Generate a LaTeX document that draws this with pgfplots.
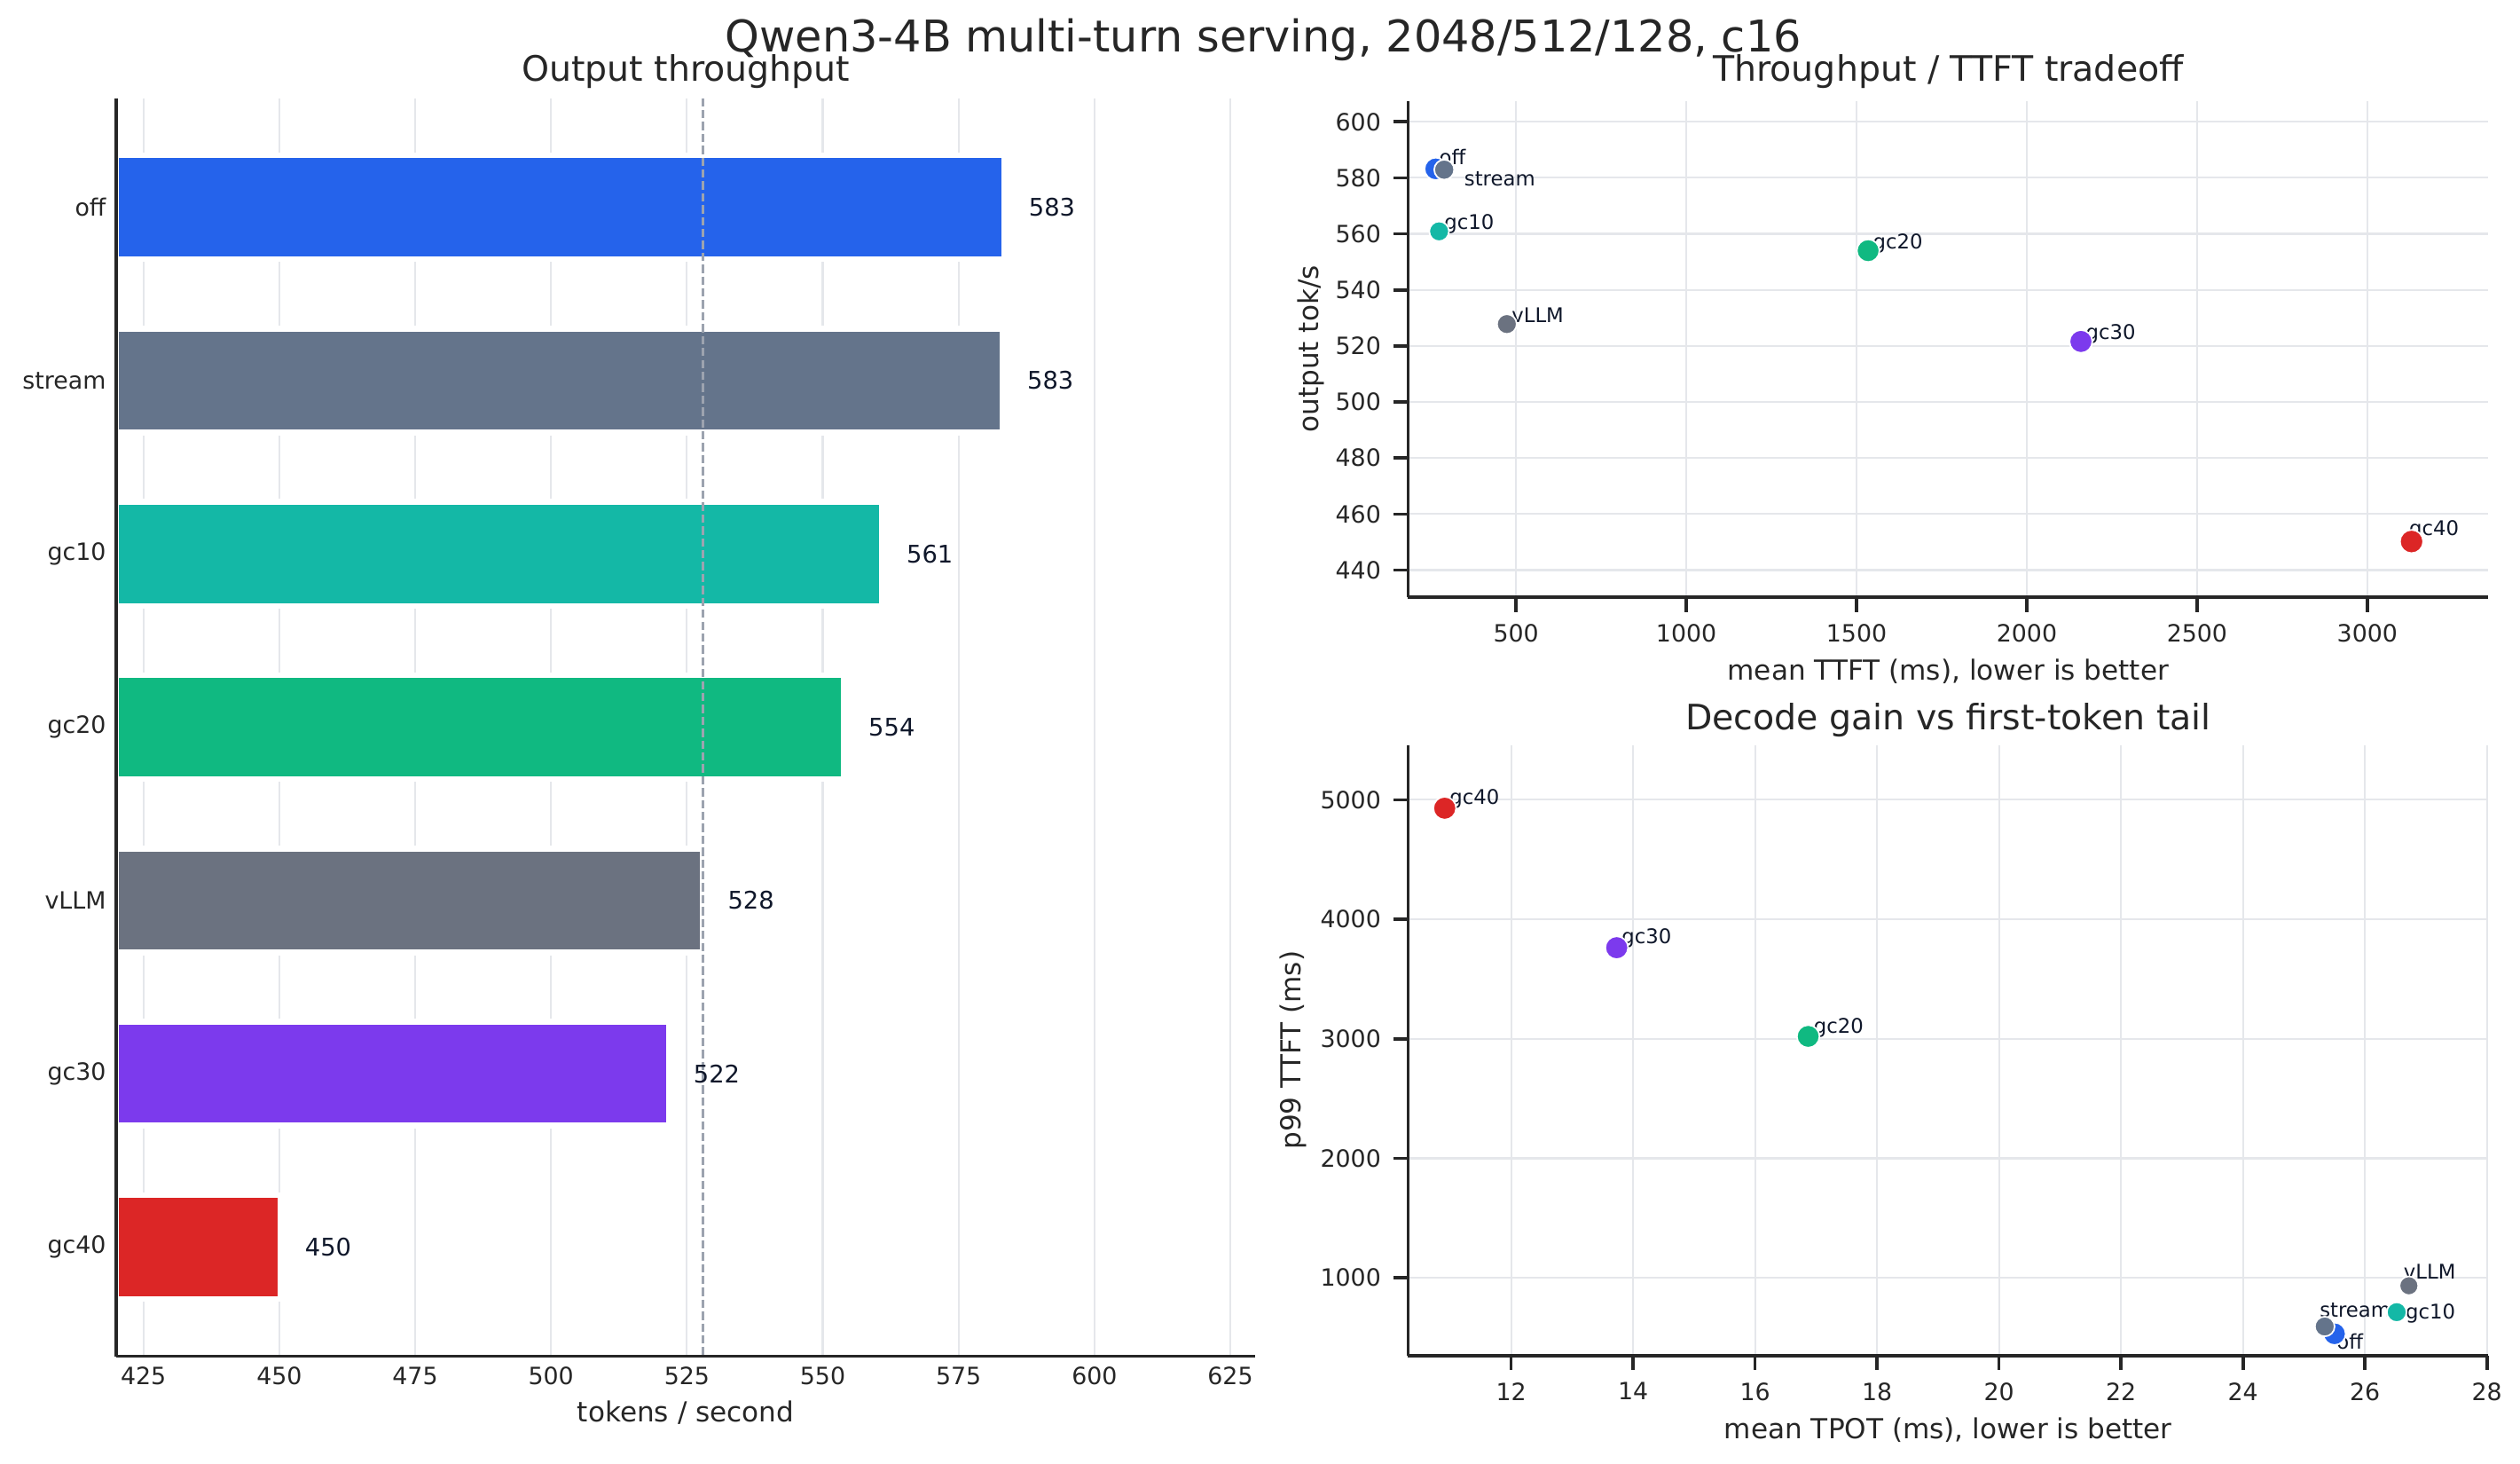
\documentclass[border=0pt]{standalone}
\usepackage{pgfplots}
\pgfplotsset{compat=1.18}
\usepackage{fontspec}
\setmainfont{DejaVu Sans}

\definecolor{cOff}{HTML}{2563EB}
\definecolor{cStream}{HTML}{64748B}
\definecolor{cGcTen}{HTML}{14B8A6}
\definecolor{cGcTwenty}{HTML}{10B981}
\definecolor{cVllm}{HTML}{6B7280}
\definecolor{cGcThirty}{HTML}{7C3AED}
\definecolor{cGcForty}{HTML}{DC2626}
\definecolor{cSpine}{HTML}{262626}
\definecolor{cGrid}{HTML}{E5E7EB}
\definecolor{cDash}{HTML}{9CA3AF}
\definecolor{cAnnot}{HTML}{0F172A}

\newcommand{\fsz}[1]{\fontsize{#1}{#1}\selectfont}

\tikzset{lbl/.style={anchor=base west, inner sep=0pt, font=\fsz{9}, text=cAnnot}}

\pgfplotsset{
  layers/barlayers/.define layer set={axis background,axis grid,main,axis ticks,axis lines,axis tick labels,axis descriptions,axis foreground}{/pgfplots/layers/standard},
  panel/.style={
    scale only axis,
    axis lines*=left,
    axis line style={cSpine, line width=1.5pt},
    tick style={cSpine, line width=1.4pt},
    tick align=outside,
    major tick length=6.6pt,
    ticklabel style={font=\fsz{10.6}, text=cSpine},
    /pgf/number format/assume math mode=true,
    /pgf/number format/1000 sep={},
    scaled ticks=false,
    grid=major,
    major grid style={cGrid, line width=0.85pt},
    every axis x label/.style={at={(axis description cs:0.5,0)}, anchor=base, font=\fsz{12.3}, text=cSpine},
    every axis y label/.style={rotate=90, anchor=center, font=\fsz{12.3}, text=cSpine},
  },
  barval/.style={nodes near coords, point meta=explicit symbolic,
    every node near coord/.style={anchor=west, inner sep=0pt, xshift=9.7pt, font=\fsz{10.8}, text=cAnnot}},
  dot/.style 2 args={only marks, mark=*, mark size=#2, mark options={fill=#1, draw=white, line width=0.7pt}},
}

\begin{document}
\begin{tikzpicture}
\path (0,0) rectangle (1123pt,652.2pt);

% left: output throughput bars
\begin{axis}[panel, at={(51.8pt,48pt)}, anchor=south west,
  width=507.6pt, height=560.5pt,
  set layers=barlayers,
  xbar, bar width=0.6, bar shift=0pt,
  xmin=420, xmax=629.6, ymin=-0.63, ymax=6.63, y dir=reverse,
  xtick={425,450,...,625}, ytick={0,...,6},
  yticklabels={off,stream,gc10,gc20,vLLM,gc30,gc40},
  major tick length=0pt,
  xmajorgrids=true, ymajorgrids=false,
  xticklabel style={anchor=north, inner sep=0pt, yshift=-4.7pt},
  yticklabel style={anchor=east, inner sep=0pt, xshift=-4.4pt},
  xlabel={tokens / second}, xlabel style={yshift=-29.1pt},
]
\addplot[barval, fill=cOff, draw=white, line width=2.6pt] coordinates {(583.4,0) [583]};
\addplot[barval, fill=cStream, draw=white, line width=2.6pt] coordinates {(583.1,1) [583]};
\addplot[barval, fill=cGcTen, draw=white, line width=2.6pt] coordinates {(560.9,2) [561]};
\addplot[barval, fill=cGcTwenty, draw=white, line width=2.6pt] coordinates {(553.9,3) [554]};
\addplot[barval, fill=cVllm, draw=white, line width=2.6pt] coordinates {(528.0,4) [528]};
\addplot[barval, fill=cGcThirty, draw=white, line width=2.6pt] coordinates {(521.7,5) [522]};
\addplot[barval, fill=cGcForty, draw=white, line width=2.6pt] coordinates {(450.2,6) [450]};
\addplot[sharp plot, no marks, cDash, line width=1pt, dash pattern=on 3.7pt off 1.6pt] coordinates {(528,-0.63) (528,6.63)};
\end{axis}

% top right: throughput vs mean TTFT
\begin{axis}[panel, at={(627.5pt,386.1pt)}, anchor=south west,
  width=481.3pt, height=221.2pt,
  xmin=183, xmax=3355, ymin=430.3, ymax=607.5,
  xtick={500,1000,...,3000}, ytick={440,460,...,600},
  xticklabel style={anchor=north, inner sep=0pt, yshift=-5.3pt},
  yticklabel style={anchor=east, inner sep=0pt, xshift=-5.3pt},
  xlabel={mean TTFT (ms), lower is better}, xlabel style={yshift=-36.9pt},
  ylabel={output tok/s}, ylabel style={at={(axis description cs:-0.0904,0.5)}},
  clip=false,
]
\addplot[dot={cOff}{5.0pt}] coordinates {(264,583.2)};
\addplot[dot={cStream}{4.45pt}] coordinates {(289,582.9)};
\addplot[dot={cGcTen}{4.4pt}] coordinates {(274,560.9)};
\addplot[dot={cGcTwenty}{5.05pt}] coordinates {(1534,554.0)};
\addplot[dot={cVllm}{4.4pt}] coordinates {(473,527.8)};
\addplot[dot={cGcThirty}{5.1pt}] coordinates {(2159,521.6)};
\addplot[dot={cGcForty}{5.2pt}] coordinates {(3130,450.2)};
\node[lbl, xshift=1.4pt, yshift=2pt] at (axis cs:264,583.2) {off};
\node[lbl, xshift=8.8pt, yshift=-7.1pt] at (axis cs:289,582.9) {stream};
\node[lbl, xshift=2.2pt, yshift=0.8pt] at (axis cs:274,560.9) {gc10};
\node[lbl, xshift=2pt, yshift=0.7pt] at (axis cs:1534,554.0) {gc20};
\node[lbl, xshift=2pt, yshift=0.8pt] at (axis cs:473,527.8) {vLLM};
\node[lbl, xshift=2pt, yshift=1pt] at (axis cs:2159,521.6) {gc30};
\node[lbl, xshift=-1.2pt, yshift=2.6pt] at (axis cs:3130,450.2) {gc40};
\end{axis}

% bottom right: p99 TTFT vs mean TPOT
\begin{axis}[panel, at={(627.5pt,48.3pt)}, anchor=south west,
  width=481.3pt, height=272pt,
  xmin=10.31, xmax=28.02, ymin=350, ymax=5458,
  xtick={12,14,...,28}, ytick={1000,2000,...,5000},
  xticklabel style={anchor=north, inner sep=0pt, yshift=-5.3pt},
  yticklabel style={anchor=east, inner sep=0pt, xshift=-5.3pt},
  xlabel={mean TPOT (ms), lower is better}, xlabel style={yshift=-36.9pt},
  ylabel={p99 TTFT (ms)}, ylabel style={at={(axis description cs:-0.1068,0.5)}},
  clip=false,
]
\addplot[dot={cOff}{5.0pt}] coordinates {(25.50,532)};
\addplot[dot={cStream}{4.4pt}] coordinates {(25.34,593)};
\addplot[dot={cGcTen}{4.4pt}] coordinates {(26.52,713)};
\addplot[dot={cVllm}{4.2pt}] coordinates {(26.72,934)};
\addplot[dot={cGcTwenty}{5.05pt}] coordinates {(16.87,3020)};
\addplot[dot={cGcThirty}{5.1pt}] coordinates {(13.73,3762)};
\addplot[dot={cGcForty}{5.1pt}] coordinates {(10.91,4929)};
\node[lbl, xshift=0.8pt, yshift=-7pt] at (axis cs:25.50,532) {off};
\node[lbl, xshift=-2.4pt, yshift=4.2pt] at (axis cs:25.34,593) {stream};
\node[lbl, xshift=3.8pt, yshift=-2.9pt] at (axis cs:26.52,713) {gc10};
\node[lbl, xshift=-2.5pt, yshift=3pt] at (axis cs:26.72,934) {vLLM};
\node[lbl, xshift=2.3pt, yshift=1.6pt] at (axis cs:16.87,3020) {gc20};
\node[lbl, xshift=2.1pt, yshift=1.7pt] at (axis cs:13.73,3762) {gc30};
\node[lbl, xshift=2pt, yshift=1.7pt] at (axis cs:10.91,4929) {gc40};
\end{axis}

\node[anchor=base, font=\fsz{19.5}, text=cSpine] at (563pt,629pt) {Qwen3-4B multi-turn serving, 2048/512/128, c16};
\node[anchor=base, font=\fsz{15.6}, text=cSpine] at (305.6pt,616.2pt) {Output throughput};
\node[anchor=base, font=\fsz{15.6}, text=cSpine] at (868.2pt,616pt) {Throughput / TTFT tradeoff};
\node[anchor=base, font=\fsz{15.6}, text=cSpine] at (868.2pt,327.2pt) {Decode gain vs first-token tail};
\end{tikzpicture}
\end{document}
